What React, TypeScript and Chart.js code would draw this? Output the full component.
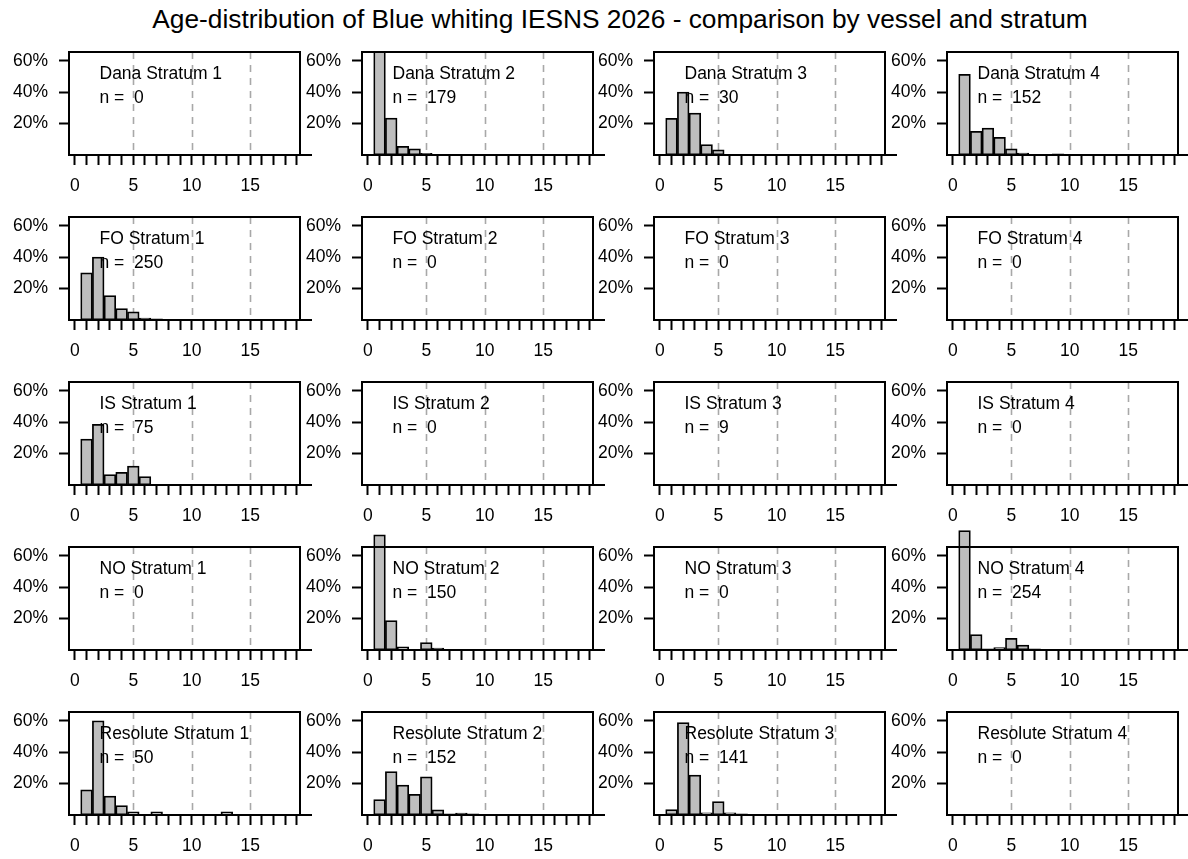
import React, { useEffect, useRef } from "react";
import { Chart, registerables } from "chart.js";

Chart.register(...registerables);

// ---------------- data ----------------
const TITLE = "Age-distribution of Blue whiting IESNS 2026 - comparison by vessel and stratum";
const VESSELS = ["Dana", "FO", "IS", "NO", "Resolute"];
const STRATA = [1, 2, 3, 4];
const AGES = [1, 2, 3, 4, 5, 6, 7, 8, 9, 10, 11, 12, 13, 14, 15, 16, 17, 18, 19];
const X_TICKS = [0, 1, 2, 3, 4, 5, 6, 7, 8, 9, 10, 11, 12, 13, 14, 15, 16, 17, 18, 19];
const X_LABELS = [0, 5, 10, 15];
const Y_TICKS = [20, 40, 60];
const DASH_AT = [5, 10, 15];

// percentage of fish by age (index 0 = age 1)
const DANA_1: number[] = [];
const DANA_2 = [65.9, 23.5, 5.6, 3.9, 1.1];
const DANA_3 = [23.3, 40.0, 26.7, 6.7, 3.3];
const DANA_4 = [51.3, 15.1, 17.1, 11.2, 3.9, 1.3, 0, 0, 0.7];
const FO_1 = [30.0, 40.0, 15.6, 7.2, 5.2, 1.2, 0.8];
const FO_2: number[] = [];
const FO_3: number[] = [];
const FO_4: number[] = [];
const IS_1 = [29.3, 38.7, 6.7, 8.0, 12.0, 5.3];
const IS_2: number[] = [];
const IS_3: number[] = [];
const IS_4: number[] = [];
const NO_1: number[] = [];
const NO_2 = [73.3, 18.7, 2.0, 0, 4.7, 1.3];
const NO_3: number[] = [];
const NO_4 = [76.0, 9.8, 0.8, 1.6, 7.5, 3.1, 0.8, 0, 0, 0, 0, 0.4];
const RESOLUTE_1 = [16, 60, 12, 6, 2, 0, 2, 0, 0, 0, 0, 0, 2];
const RESOLUTE_2 = [9.9, 27.6, 19.1, 13.2, 24.3, 3.3, 0.7, 1.3, 0.7];
const RESOLUTE_3 = [3.5, 58.9, 25.5, 1.4, 8.5, 1.4, 0.7];
const RESOLUTE_4: number[] = [];

const N_DANA = [0, 179, 30, 152];
const N_FO = [250, 0, 0, 0];
const N_IS = [75, 0, 9, 0];
const N_NO = [0, 150, 0, 254];
const N_RESOLUTE = [50, 152, 141, 0];

const VALUES: number[][][] = [
  [DANA_1, DANA_2, DANA_3, DANA_4],
  [FO_1, FO_2, FO_3, FO_4],
  [IS_1, IS_2, IS_3, IS_4],
  [NO_1, NO_2, NO_3, NO_4],
  [RESOLUTE_1, RESOLUTE_2, RESOLUTE_3, RESOLUTE_4],
];
const COUNTS = [N_DANA, N_FO, N_IS, N_NO, N_RESOLUTE];

// ---------------- layout / style ----------------
const X_MIN = -0.5;
const X_MAX = 19.26;
const Y_MAX = 65.6;
const FONT = "'Liberation Sans', Arial, sans-serif";
const FONT_SIZE = 17.5;
const COL_LEFT0 = 69;
const COL_STEP = 292.7;
const ROW_TOP0 = 52;
const ROW_STEP = 165;
const AREA_W = 231;
const AREA_H = 103;
const PAD_TOP = 30;
const PAD_RIGHT = 16;
const Y_AXIS_W = 66;
const X_AXIS_H = 45;
const CANVAS_W = Y_AXIS_W + AREA_W + PAD_RIGHT;
const CANVAS_H = PAD_TOP + AREA_H + X_AXIS_H;

type PanelProps = { label: string; n: number; values: number[]; left: number; top: number };

function Panel({ label, n, values, left, top }: PanelProps) {
  const ref = useRef<HTMLCanvasElement | null>(null);
  useEffect(() => {
    if (!ref.current) return;
    const deco = {
      id: "rdeco",
      beforeDatasetsDraw(chart: any) {
        const { ctx, chartArea } = chart;
        const xs = chart.scales.x;
        ctx.save();
        ctx.strokeStyle = "#A8A8A8";
        ctx.lineWidth = 1.6;
        ctx.setLineDash([7, 6]);
        DASH_AT.forEach((v) => {
          const px = Math.round(xs.getPixelForValue(v)) + 0.5;
          ctx.beginPath();
          ctx.moveTo(px, chartArea.top);
          ctx.lineTo(px, chartArea.bottom);
          ctx.stroke();
        });
        ctx.restore();
      },
      afterDatasetsDraw(chart: any) {
        const { ctx, chartArea } = chart;
        ctx.save();
        ctx.strokeStyle = "#000";
        ctx.lineWidth = 2;
        ctx.strokeRect(chartArea.left, chartArea.top, chartArea.right - chartArea.left, chartArea.bottom - chartArea.top);
        ctx.beginPath();
        ctx.moveTo(chartArea.right, chartArea.bottom);
        ctx.lineTo(chartArea.right + 12, chartArea.bottom);
        ctx.stroke();
        ctx.fillStyle = "#000";
        ctx.font = `${FONT_SIZE}px ${FONT}`;
        ctx.textAlign = "left";
        ctx.textBaseline = "middle";
        ctx.fillText(label, chartArea.left + 30.5, chartArea.top + 22);
        ctx.fillText(`n =  ${n}`, chartArea.left + 30.5, chartArea.top + 46);
        ctx.restore();
      },
    };
    const chart = new Chart(ref.current, {
      type: "bar",
      data: {
        datasets: [
          {
            data: AGES.map((a, i) => ({ x: a, y: values[i] ?? 0 })),
            backgroundColor: "#BEBEBE",
            borderColor: "#000",
            borderWidth: 1.75,
            borderSkipped: false,
            barPercentage: 1,
            categoryPercentage: 1,
            clip: false,
          } as any,
        ],
      },
      options: {
        animation: false,
        responsive: false,
        events: [],
        layout: { padding: { top: PAD_TOP, right: PAD_RIGHT, left: 0, bottom: 0 } },
        plugins: { legend: { display: false }, tooltip: { enabled: false } },
        scales: {
          x: {
            type: "linear",
            min: X_MIN,
            max: X_MAX,
            offset: false,
            afterBuildTicks: (s: any) => {
              s.ticks = X_TICKS.map((v) => ({ value: v }));
            },
            afterFit: (s: any) => {
              s.height = X_AXIS_H;
            },
            grid: { drawOnChartArea: false, drawTicks: true, tickLength: 10, tickWidth: 2, tickColor: "#000", offset: false },
            border: { display: true, color: "#000", width: 2 },
            ticks: {
              autoSkip: false,
              maxRotation: 0,
              minRotation: 0,
              padding: 11,
              color: "#000",
              font: { family: FONT, size: FONT_SIZE },
              callback: (v: any) => (X_LABELS.includes(Number(v)) ? String(v) : ""),
            },
          },
          y: {
            type: "linear",
            min: 0,
            max: Y_MAX,
            afterBuildTicks: (s: any) => {
              s.ticks = Y_TICKS.map((v) => ({ value: v }));
            },
            afterFit: (s: any) => {
              s.width = Y_AXIS_W;
            },
            grid: { drawOnChartArea: false, drawTicks: true, tickLength: 10, tickWidth: 2, tickColor: "#000" },
            border: { display: true, color: "#000", width: 2 },
            ticks: {
              padding: 11,
              color: "#000",
              font: { family: FONT, size: FONT_SIZE },
              callback: (v: any) => `${v}%`,
            },
          },
        },
      } as any,
      plugins: [deco],
    });
    return () => chart.destroy();
  }, [label, n, values]);
  return (
    <canvas
      ref={ref}
      width={CANVAS_W}
      height={CANVAS_H}
      style={{ position: "absolute", left, top, width: CANVAS_W, height: CANVAS_H }}
    />
  );
}

export default function App() {
  const panels: JSX.Element[] = [];
  VESSELS.forEach((vessel, r) => {
    STRATA.forEach((s, c) => {
      panels.push(
        <Panel
          key={`${vessel}-${s}`}
          label={`${vessel} Stratum ${s}`}
          n={COUNTS[r][c]}
          values={VALUES[r][c]}
          left={Math.round(COL_LEFT0 + c * COL_STEP) - Y_AXIS_W}
          top={ROW_TOP0 + r * ROW_STEP - PAD_TOP}
        />
      );
    });
  });
  return (
    <div style={{ position: "absolute", left: 0, top: 0, width: 1188, height: 859, background: "#fff", overflow: "hidden" }}>
      <div
        style={{
          position: "absolute",
          left: 620,
          top: 6,
          transform: "translateX(-50%)",
          whiteSpace: "nowrap",
          fontFamily: FONT,
          fontSize: 26.3,
          lineHeight: "26.3px",
          color: "#000",
        }}
      >
        {TITLE}
      </div>
      {panels}
    </div>
  );
}
